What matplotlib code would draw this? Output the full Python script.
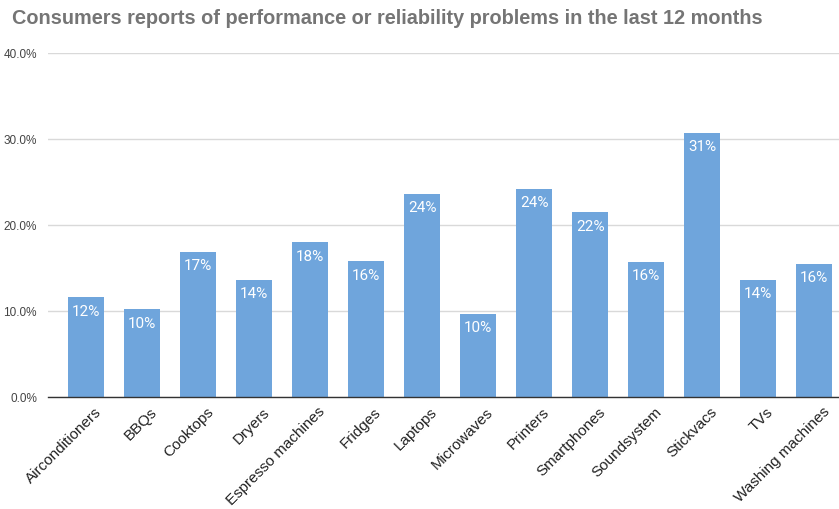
import matplotlib
matplotlib.use("Agg")
import matplotlib.pyplot as plt
from matplotlib.ticker import FuncFormatter
from matplotlib import transforms

categories = ["Airconditioners", "BBQs", "Cooktops", "Dryers", "Espresso machines",
              "Fridges", "Laptops", "Microwaves", "Printers", "Smartphones",
              "Soundsystem", "Stickvacs", "TVs", "Washing machines"]
values = [11.6, 10.2, 16.9, 13.6, 18.0, 15.8, 23.6, 9.7, 24.2, 21.5, 15.7, 30.7, 13.6, 15.5]
yticks = [0, 10, 20, 30, 40]

W, H = 839, 510
fig = plt.figure(figsize=(W / 100, H / 100), dpi=100)
ax = fig.add_axes([48 / W, 1 - 398 / H, (W - 48) / W, (398 - 54) / H])

bar_color = "#6fa5dc"
x = list(range(len(categories)))
bars = ax.bar(x, values, width=0.64, color=bar_color, zorder=3)

for xi, v in zip(x, values):
    ax.text(xi, v - 0.75, f"{round(v):.0f}%", ha="center", va="top",
            color="white", fontsize=11, family="Roboto", zorder=4)

ax.set_ylim(0, 40)
ax.set_xlim(-0.68, 13.44)
ax.set_yticks(yticks)
ax.yaxis.set_major_formatter(FuncFormatter(lambda v, p: f"{v:.1f}%"))
ax.grid(axis="y", color="#d9d9d9", linewidth=1, zorder=0)
ax.tick_params(axis="y", length=0, pad=8, labelsize=8.5, labelcolor="#444444")
ax.tick_params(axis="x", length=0, pad=5)
for s in ["top", "right", "left"]:
    ax.spines[s].set_visible(False)
ax.spines["bottom"].set_color("#333333")
ax.spines["bottom"].set_linewidth(1)
ax.spines["bottom"].set_zorder(5)

ax.set_xticks(x)
offset = transforms.ScaledTranslation(8 / 100, 0, fig.dpi_scale_trans)
ax.set_xticklabels(categories, rotation=45, ha="right", rotation_mode="anchor",
                   fontsize=11, color="#222222", family="Liberation Sans")
for lbl in ax.get_xticklabels():
    lbl.set_transform(lbl.get_transform() + offset)
for lbl in ax.get_yticklabels():
    lbl.set_family("Liberation Sans")

fig.text(12 / W, 1 - 18 / H, "Consumers reports of performance or reliability problems in the last 12 months",
         fontsize=14.3, fontweight="bold", color="#757575", family="Liberation Sans",
         ha="left", va="center")

fig.savefig("out.png", dpi=100)
